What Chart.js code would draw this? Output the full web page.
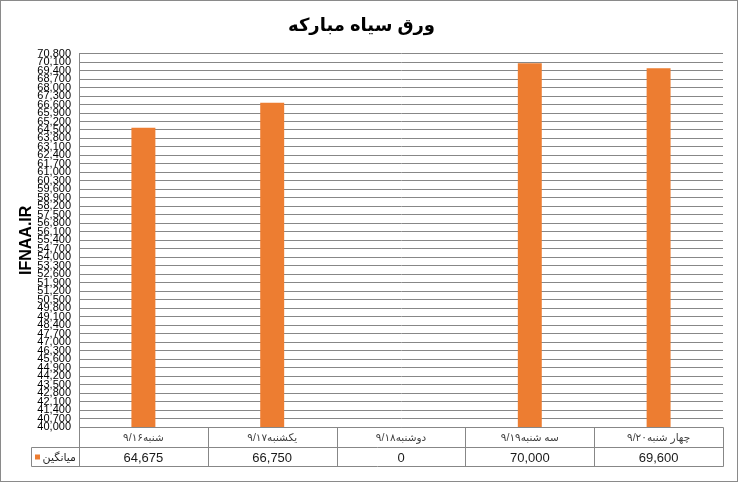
<!DOCTYPE html>
<html>
<head>
<meta charset="utf-8">
<script src="https://cdn.jsdelivr.net/npm/chart.js@4.4.1/dist/chart.umd.min.js"></script>
<style>
html, body { margin: 0; padding: 0; background: #fff; }
#box { width: 738px; height: 482px; }
</style>
</head>
<body>
<div id="box"><canvas id="grafico"></canvas></div>
<script>
// dati del grafico
var titolo = 'ورق سیاه مبارکه';
var asseY = 'IFNAA.IR';
var nomeSerie = 'میانگین';
var giorni = ['شنبه۹/۱۶', 'یکشنبه۹/۱۷', 'دوشنبه۹/۱۸', 'سه شنبه۹/۱۹', 'چهار شنبه۹/۲۰'];
var media = [64675, 66750, 0, 70000, 69600];
var yMin = 40000;
var yMax = 70800;
var yPasso = 700;

var arancio = '#ED7D31';
var grigio = '#878787';
var font = 'Arial, "Liberation Sans", "DejaVu Sans", sans-serif';

function numero(v) {
    return v.toLocaleString('en-US');
}

// tabella dati sotto il grafico + bordo esterno
var tabella = {
    id: 'tabella',
    afterDraw: function(chart) {
        var ctx = chart.ctx;
        var a = chart.chartArea;
        var sx = chart.scales.x;
        var r1 = Math.round(a.bottom) + 0.5;
        var r2 = r1 + 20;
        var r3 = r1 + 39;
        var sin = 31.5;
        var l = Math.round(a.left) + 0.5;
        var r = Math.round(a.right) + 0.5;
        ctx.save();
        ctx.strokeStyle = grigio;
        ctx.lineWidth = 1;
        ctx.beginPath();
        ctx.moveTo(l, r1); ctx.lineTo(r, r1);
        ctx.moveTo(sin, r2); ctx.lineTo(r, r2);
        ctx.moveTo(sin, r3); ctx.lineTo(r, r3);
        ctx.moveTo(sin, r2); ctx.lineTo(sin, r3);
        ctx.moveTo(l, a.top); ctx.lineTo(l, r3);
        var passo = sx.getPixelForValue(1) - sx.getPixelForValue(0);
        for (var i = 0; i < giorni.length; i++) {
            var bordo = Math.round(sx.getPixelForValue(i) + passo / 2) + 0.5;
            ctx.moveTo(bordo, r1); ctx.lineTo(bordo, r3);
        }
        ctx.stroke();

        ctx.textAlign = 'center';
        ctx.textBaseline = 'middle';
        for (var j = 0; j < giorni.length; j++) {
            var cx = sx.getPixelForValue(j);
            ctx.fillStyle = '#404040';
            ctx.font = '10.5px ' + font;
            ctx.fillText(chart.data.labels[j], cx, (r1 + r2) / 2 + 1);
            ctx.fillStyle = '#1a1a1a';
            ctx.font = '13px ' + font;
            ctx.fillText(numero(chart.data.datasets[0].data[j]), cx, (r2 + r3) / 2 + 1);
        }

        // legenda nella tabella
        ctx.fillStyle = arancio;
        ctx.fillRect(35, r2 + 7, 5, 5);
        ctx.fillStyle = '#262626';
        ctx.font = '11px ' + font;
        ctx.textAlign = 'right';
        ctx.fillText(chart.data.datasets[0].label, 76, (r2 + r3) / 2 + 1);

        // bordo del grafico
        ctx.strokeStyle = '#8a8a8a';
        ctx.strokeRect(0.5, 0.5, chart.width - 1, chart.height - 1);
        ctx.restore();
    }
};

var chart = new Chart(document.getElementById('grafico'), {
    type: 'bar',
    data: {
        labels: giorni,
        datasets: [{
            label: nomeSerie,
            data: media,
            backgroundColor: arancio,
            barPercentage: 0.186,
            categoryPercentage: 1
        }]
    },
    options: {
        responsive: true,
        maintainAspectRatio: false,
        animation: false,
        layout: {
            padding: { left: 0, right: 15, top: 0, bottom: 47 }
        },
        plugins: {
            legend: { display: false },
            tooltip: { enabled: false },
            title: {
                display: true,
                text: titolo,
                color: '#000',
                font: { family: font, size: 18, weight: 'bold', lineHeight: 1.2 },
                padding: { top: 15, bottom: 17 }
            }
        },
        scales: {
            x: {
                grid: { display: false },
                border: { display: false },
                ticks: { display: false }
            },
            y: {
                min: yMin,
                max: yMax,
                afterFit: function(scale) { scale.width = 79; },
                grid: { color: grigio, lineWidth: 1, drawTicks: false },
                border: { color: grigio },
                ticks: {
                    stepSize: yPasso,
                    autoSkip: false,
                    maxTicksLimit: 100,
                    padding: 8,
                    color: '#000',
                    font: { family: font, size: 11 },
                    callback: function(v) { return numero(v); }
                },
                title: {
                    display: true,
                    text: asseY,
                    color: '#000',
                    font: { family: font, size: 16, weight: 'bold' },
                    padding: { top: 17, bottom: 0 }
                }
            }
        }
    },
    plugins: [tabella]
});
</script>
</body>
</html>
